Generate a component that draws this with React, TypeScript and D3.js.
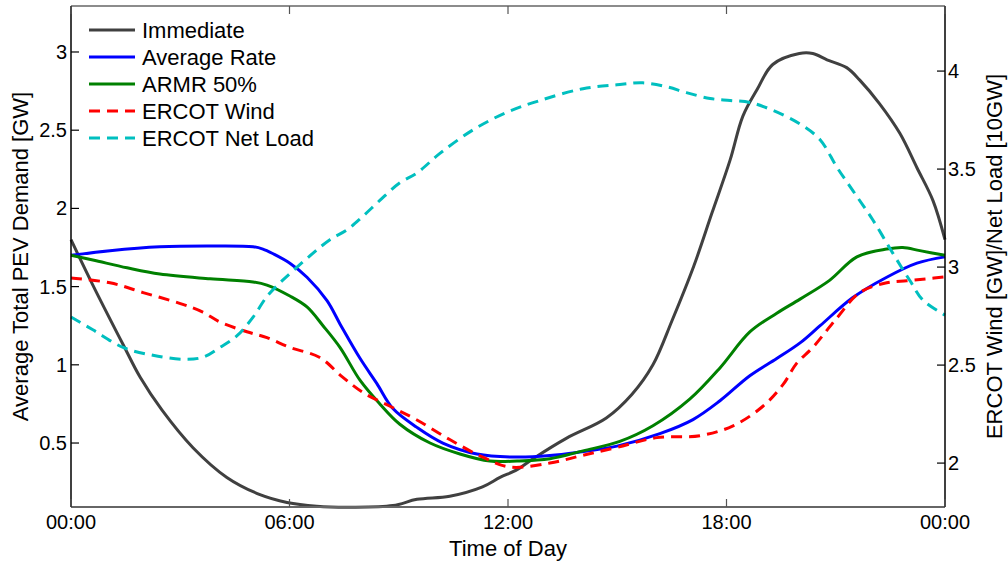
import React from "react";
import * as d3 from "d3";

// Hours of day and values
const immediateHours = [0, 0.6, 1.43, 1.9, 2.5, 3.35, 4.28, 5.19, 5.93, 6.75, 7.66, 8.84, 9.5, 10.4, 11.3, 11.78, 12.25, 12.69, 13.6, 14.7, 15.4, 15.98, 16.5, 17.1, 17.6, 18.1, 18.45, 18.84, 19.27, 20.0, 20.37, 20.76, 21.3, 21.66, 22.2, 22.76, 23.23, 23.67, 24];
const immediateVals = [1.8, 1.51, 1.13, 0.92, 0.71, 0.47, 0.28, 0.17, 0.12, 0.096, 0.09, 0.1, 0.14, 0.16, 0.22, 0.28, 0.33, 0.4, 0.53, 0.66, 0.81, 1.0, 1.28, 1.63, 1.97, 2.31, 2.59, 2.76, 2.92, 2.99, 2.99, 2.95, 2.9, 2.82, 2.67, 2.48, 2.26, 2.05, 1.8];

const avgRateHours = [0, 1.07, 2.44, 3.82, 5.0, 5.27, 5.55, 6.01, 6.48, 7.03, 7.39, 7.94, 8.4, 8.84, 9.5, 10.21, 11.15, 12.25, 13.15, 13.89, 14.99, 16.17, 17.08, 17.82, 18.64, 19.38, 20.02, 20.57, 21.47, 22.4, 23.23, 24];
const avgRateVals = [1.7, 1.73, 1.755, 1.76, 1.755, 1.74, 1.71, 1.65, 1.56, 1.41, 1.26, 1.04, 0.88, 0.72, 0.6, 0.5, 0.43, 0.41, 0.42, 0.44, 0.48, 0.56, 0.65, 0.77, 0.93, 1.04, 1.14, 1.25, 1.43, 1.56, 1.65, 1.69];

const armrHours = [0, 0.6, 1.54, 2.44, 3.82, 5.0, 5.38, 6.01, 6.48, 6.92, 7.39, 7.94, 8.48, 9.03, 9.86, 10.68, 11.5, 12.25, 13.15, 14.06, 15.07, 15.98, 16.99, 17.82, 18.64, 19.38, 20.02, 20.83, 21.58, 22.4, 22.84, 23.31, 24];
const armrVals = [1.7, 1.67, 1.62, 1.58, 1.55, 1.53, 1.51, 1.44, 1.37, 1.25, 1.11, 0.9, 0.75, 0.62, 0.5, 0.43, 0.385, 0.385, 0.4, 0.45, 0.51, 0.61, 0.78, 0.98, 1.21, 1.33, 1.42, 1.54, 1.69, 1.74, 1.75, 1.73, 1.7];

const windHours = [0, 1.07, 1.98, 3.07, 3.62, 4.09, 4.83, 5.38, 6.01, 6.82, 7.45, 8.02, 8.76, 9.5, 10.4, 11.31, 12.05, 13.15, 14.06, 14.99, 16.09, 17.27, 18.18, 19.0, 19.55, 19.93, 20.37, 21.03, 21.66, 22.4, 22.95, 23.5, 24];
const windVals = [2.944, 2.92, 2.87, 2.81, 2.77, 2.72, 2.67, 2.64, 2.59, 2.54, 2.44, 2.36, 2.29, 2.22, 2.12, 2.03, 1.98, 2.0, 2.04, 2.08, 2.13, 2.14, 2.19, 2.29, 2.4, 2.51, 2.59, 2.74, 2.87, 2.92, 2.93, 2.94, 2.95];

const netLoadHours = [0, 0.6, 1.43, 2.25, 3.07, 3.62, 4.09, 4.56, 5.0, 5.38, 5.74, 6.09, 6.64, 7.11, 7.58, 8.02, 8.48, 9.03, 9.5, 10.13, 11.04, 11.97, 12.88, 14.06, 14.99, 15.7, 16.36, 16.9, 17.55, 18.1, 18.64, 19.27, 20.02, 20.57, 21.03, 21.47, 22.02, 22.57, 23.04, 23.4, 24];
const netLoadVals = [2.745, 2.68, 2.59, 2.55, 2.53, 2.54, 2.59, 2.65, 2.745, 2.85, 2.92, 2.98, 3.07, 3.14, 3.19, 3.26, 3.34, 3.43, 3.48, 3.58, 3.7, 3.79, 3.85, 3.91, 3.93, 3.94, 3.92, 3.89, 3.86, 3.85, 3.84, 3.8, 3.73, 3.65, 3.51, 3.39, 3.24, 3.07, 2.93, 2.83, 2.755];

const xTicks = [0, 6, 12, 18, 24];
const xTickLabels = ["00:00", "06:00", "12:00", "18:00", "00:00"];
const leftTicks = [0.5, 1, 1.5, 2, 2.5, 3];
const rightTicks = [2, 2.5, 3, 3.5, 4];

const seriesNames = ["Immediate", "Average Rate", "ARMR 50%", "ERCOT Wind", "ERCOT Net Load"];

const FONT = "'Liberation Sans', Arial, Helvetica, sans-serif";

export default function App() {
  const left = 71, right = 945, top = 6, bottom = 507;
  const x = d3.scaleLinear().domain([0, 24]).range([left, right]);
  const yL = d3.scaleLinear().domain([0.091, 3.294]).range([bottom, top]);
  const yR = d3.scaleLinear().domain([1.776, 4.332]).range([bottom, top]);

  const mk = (hs: number[], vs: number[], ys: d3.ScaleLinear<number, number>) =>
    d3
      .line<number>()
      .x((_, i) => x(hs[i]))
      .y((v) => ys(v))
      .curve(d3.curveCatmullRom.alpha(0.5))(vs) || "";

  const series = [
    { name: seriesNames[0], d: mk(immediateHours, immediateVals, yL), color: "#404040", dash: undefined },
    { name: seriesNames[1], d: mk(avgRateHours, avgRateVals, yL), color: "#0000ff", dash: undefined },
    { name: seriesNames[2], d: mk(armrHours, armrVals, yL), color: "#008000", dash: undefined },
    { name: seriesNames[3], d: mk(windHours, windVals, yR), color: "#ff0000", dash: "11,7" },
    { name: seriesNames[4], d: mk(netLoadHours, netLoadVals, yR), color: "#00bfbf", dash: "11,7" },
  ];

  const tickLen = 8;
  const midY = (top + bottom) / 2;

  return (
    <svg
      width={1008}
      height={563}
      style={{ position: "absolute", left: 0, top: 0, background: "#fff" }}
      fontFamily={FONT}
    >
      <rect x={0} y={0} width={1008} height={563} fill="#fff" />
      {/* data lines */}
      <g fill="none" strokeWidth={3} strokeLinejoin="round">
        {series.map((s) => (
          <path key={s.name} d={s.d} stroke={s.color} strokeDasharray={s.dash} />
        ))}
      </g>

      {/* axes box */}
      <line x1={left} x2={right} y1={bottom} y2={bottom} stroke="#666" strokeWidth={2} />
      <line x1={left} x2={right} y1={top} y2={top} stroke="#666" strokeWidth={1.5} />
      <line x1={left} x2={left} y1={top} y2={bottom} stroke="#000" strokeWidth={1.5} />
      <line x1={right} x2={right} y1={top} y2={bottom} stroke="#000" strokeWidth={1.5} />

      {/* x ticks */}
      {xTicks.map((t, i) => (
        <g key={"x" + i}>
          <line x1={x(t)} x2={x(t)} y1={bottom} y2={bottom - tickLen} stroke="#555" strokeWidth={1.2} />
          <line x1={x(t)} x2={x(t)} y1={top} y2={top + tickLen} stroke="#555" strokeWidth={1.2} />
          <text x={x(t)} y={529} fontSize={20} textAnchor="middle" fill="#000">
            {xTickLabels[i]}
          </text>
        </g>
      ))}

      {/* left ticks */}
      {leftTicks.map((t) => (
        <g key={"l" + t}>
          <line x1={left} x2={left + tickLen} y1={yL(t)} y2={yL(t)} stroke="#000" strokeWidth={1.2} />
          <text x={67} y={yL(t)} dy="0.35em" fontSize={20} textAnchor="end" fill="#000">
            {t}
          </text>
        </g>
      ))}

      {/* right ticks */}
      {rightTicks.map((t) => (
        <g key={"r" + t}>
          <line x1={right} x2={right - tickLen} y1={yR(t)} y2={yR(t)} stroke="#000" strokeWidth={1.2} />
          <text x={948} y={yR(t)} dy="0.35em" fontSize={20} textAnchor="start" fill="#000">
            {t}
          </text>
        </g>
      ))}

      {/* axis labels */}
      <text x={(left + right) / 2} y={556} fontSize={22} textAnchor="middle" fill="#000">
        Time of Day
      </text>
      <text
        transform={`translate(28,${midY}) rotate(-90)`}
        fontSize={22}
        textAnchor="middle"
        fill="#000"
      >
        Average Total PEV Demand [GW]
      </text>
      <text
        transform={`translate(1002,${midY}) rotate(-90)`}
        fontSize={22}
        textAnchor="middle"
        fill="#000"
      >
        ERCOT Wind [GW]/Net Load [10GW]
      </text>

      {/* legend */}
      {series.map((s, i) => {
        const ly = 30 + i * 27;
        return (
          <g key={"lg" + i}>
            <line
              x1={89}
              x2={135}
              y1={ly}
              y2={ly}
              stroke={s.color}
              strokeWidth={3}
              strokeDasharray={s.dash}
            />
            <text x={142} y={ly} dy="0.35em" fontSize={22} fill="#000">
              {s.name}
            </text>
          </g>
        );
      })}
    </svg>
  );
}
